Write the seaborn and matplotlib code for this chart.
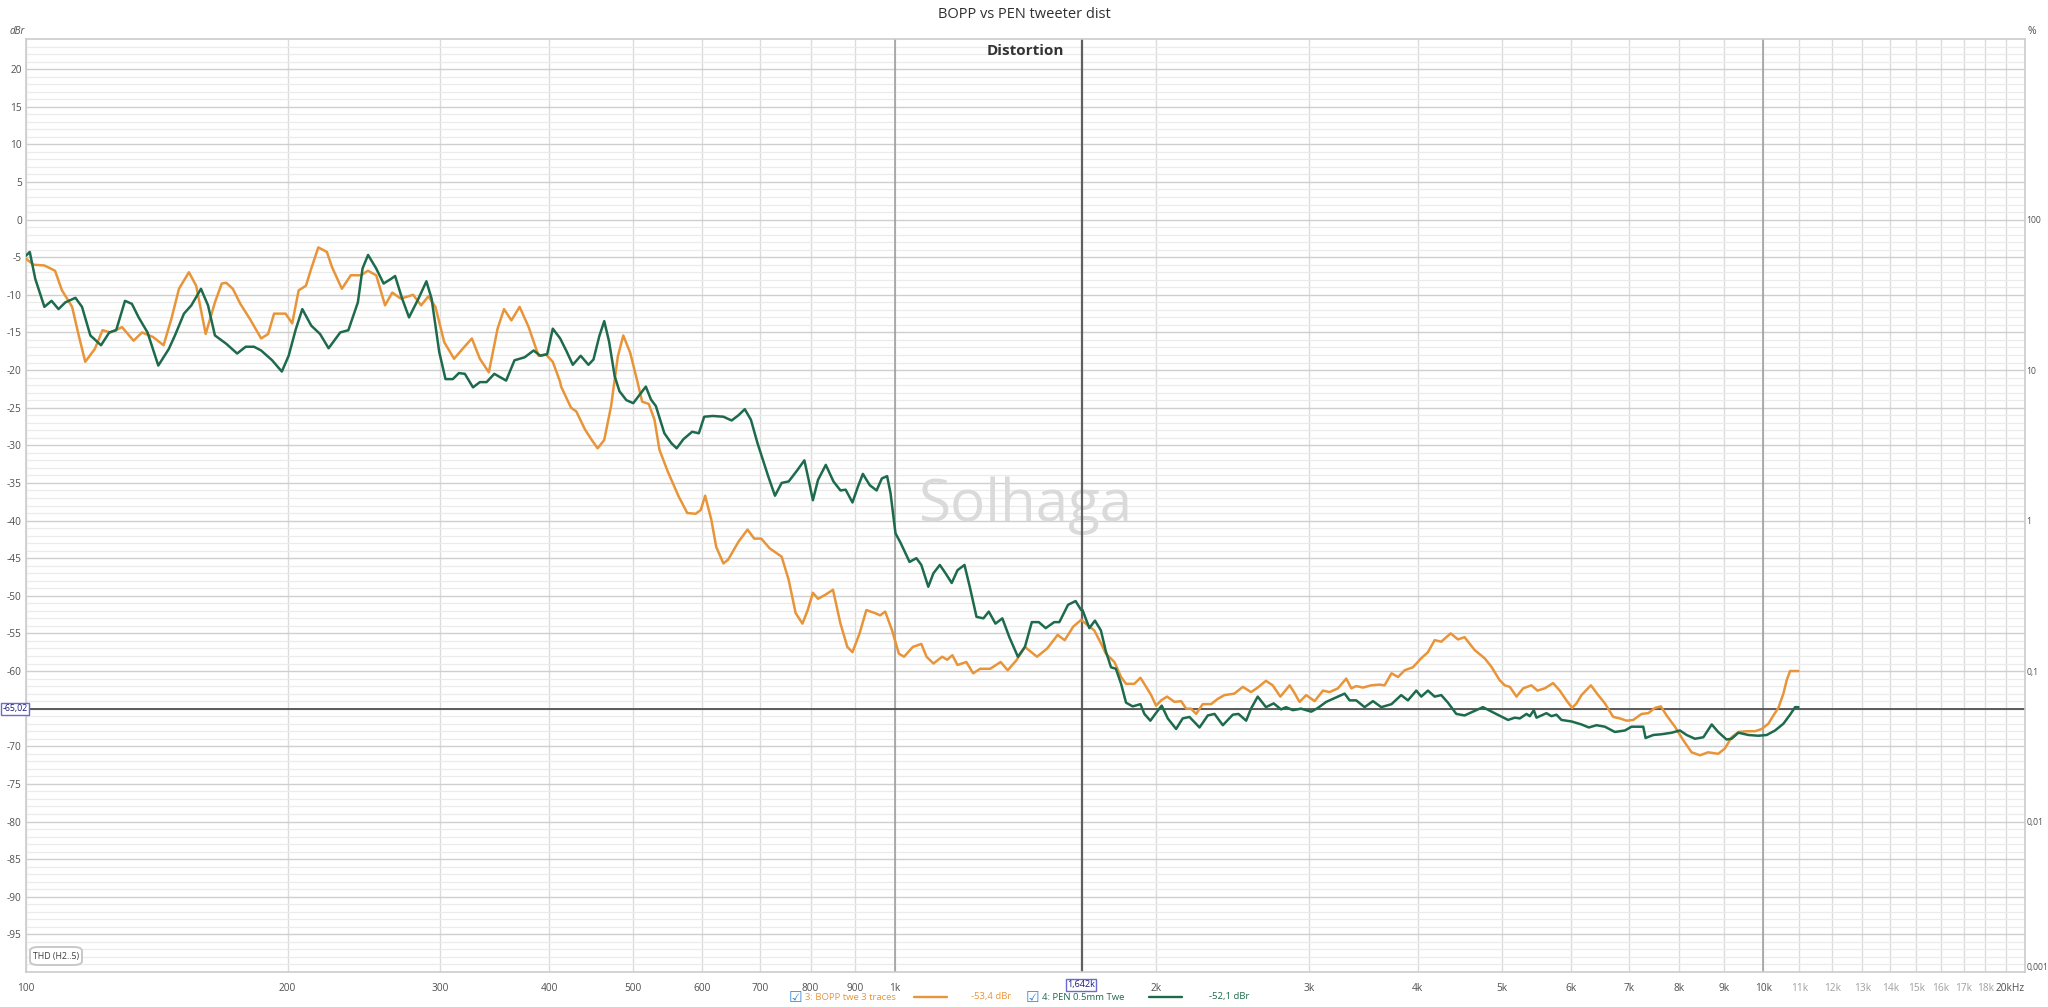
import matplotlib
matplotlib.use("Agg")
import pandas as pd
import matplotlib.pyplot as plt
import seaborn as sns
from matplotlib.lines import Line2D
from matplotlib.patches import FancyBboxPatch

# ---- trace 3: BOPP tweeter (orange) ----
bopp_freq = [100, 102, 105, 108, 110, 113, 115, 117, 120, 122.5, 125, 129, 133, 136, 140, 144, 147,
             150, 154, 157, 161, 165, 168, 170, 173, 176.5, 181, 186.5, 190, 193, 199, 202.5, 206,
             210, 213, 217, 222, 225, 231, 236.5, 243, 247.5, 253, 259, 264, 270, 279, 285, 290.5,
             296, 303, 311, 318, 326, 333, 341, 349, 355, 362, 370, 379, 389, 396.5, 404, 412,
             413, 424, 430, 440, 448, 455, 463, 471.5, 480, 487, 496, 505, 512, 521, 529, 536, 548,
             564, 577, 590, 598, 605, 615, 623, 635, 643, 661, 677, 689, 702, 718, 741, 755, 769,
             783, 794, 805, 816, 831, 849, 866, 882, 894, 911, 927.5, 949, 962, 975, 993, 1011,
             1025, 1049, 1073, 1088, 1108, 1134, 1149, 1165, 1181, 1209, 1231, 1254, 1288, 1324,
             1349, 1380, 1412, 1458, 1498, 1540, 1569, 1605, 1639,
             1667, 1697, 1727, 1750, 1790, 1822, 1846, 1887, 1918, 1947, 1973, 1999, 2026, 2058,
             2099, 2136, 2165, 2193, 2223, 2262, 2313, 2354, 2396, 2460, 2516, 2571, 2617, 2675,
             2723, 2779, 2848, 2881, 2924, 2976, 3043, 3111, 3166, 3237, 3309, 3354, 3398, 3459,
             3536, 3615, 3663, 3731, 3796, 3863, 3949, 4037, 4109, 4183, 4257, 4364, 4450, 4528,
             4650, 4775, 4860, 4968,
             5037, 5105, 5196, 5289, 5406, 5493, 5601, 5726, 5828, 5932, 6022, 6092, 6173, 6329,
             6453, 6568, 6715, 6835, 6956, 7081, 7239, 7368, 7500, 7620, 7735, 7908, 8085, 8265,
             8450, 8636, 8869, 9027, 9189, 9357, 9566, 9779, 9954, 10131, 10266, 10403, 10542,
             10636, 10730, 10970]
bopp_db = [-5.2, -6.0, -6.1, -6.8, -9.4, -11.6, -15.4, -18.9, -17.2, -14.7, -15.0, -14.3, -16.1,
           -15.0, -15.6, -16.7, -13.2, -9.2, -7.0, -8.8, -15.2, -11.0, -8.5, -8.4, -9.2, -11.2,
           -13.2, -15.8, -15.2, -12.5, -12.5, -13.8, -9.4, -8.8, -6.5, -3.7, -4.3, -6.3, -9.2,
           -7.4, -7.4, -6.8, -7.4, -11.4, -9.7, -10.5, -10.0, -11.4, -10.2, -11.6, -16.3, -18.5,
           -17.2, -15.8, -18.5, -20.3, -14.5, -11.9, -13.4, -11.6, -14.3, -18.1, -17.9, -18.9,
           -21.6,
           -22.2, -25.0, -25.5, -27.9, -29.3, -30.4, -29.3, -24.8, -18.2, -15.4, -17.7, -21.3,
           -24.2, -24.5, -26.6, -30.6, -33.5, -36.8, -39.0, -39.1, -38.6, -36.7, -39.9, -43.5,
           -45.7, -45.2, -42.8, -41.2, -42.4, -42.4, -43.7, -44.8, -47.9, -52.3, -53.7, -51.9,
           -49.6, -50.4, -49.9, -49.2, -53.7, -56.8, -57.5, -55.0, -51.9, -52.3, -52.6, -52.1,
           -54.6, -57.7, -58.1, -56.8, -56.4, -58.1, -59.0, -58.1, -58.5, -57.9, -59.2, -58.8,
           -60.3, -59.7, -59.7, -58.8, -59.9, -58.6, -56.8, -58.1, -57.0, -55.2, -55.9, -54.1,
           -53.2,
           -53.9, -54.6, -56.3, -57.7, -58.8, -60.8, -61.7, -61.7, -60.9, -62.1, -63.2, -64.6,
           -63.9, -63.4, -64.1, -64.0, -65.0, -65.0, -65.7, -64.4, -64.4, -63.7, -63.2, -63.0,
           -62.1, -62.8, -62.2, -61.3, -61.9, -63.4, -61.9, -62.8, -64.1, -63.2, -64.0, -62.6,
           -62.8, -62.3, -61.0, -62.3, -62.0, -62.2, -61.9, -61.8, -61.9, -60.3, -60.8, -59.9,
           -59.5, -58.3, -57.5, -55.9, -56.1, -55.0, -55.8, -55.5, -57.2, -58.3, -59.4, -61.2,
           -61.9, -62.1, -63.4, -62.3, -61.9, -62.6, -62.3, -61.6, -62.6, -63.9, -64.9, -64.3,
           -63.2, -61.9, -63.2, -64.3, -66.1, -66.3, -66.6, -66.5, -65.7, -65.6, -64.9, -64.7,
           -65.9, -67.4, -69.2, -70.8, -71.2, -70.8, -71.0, -70.3, -68.8, -68.1, -68.0, -68.0,
           -67.7, -67.0, -65.9, -64.9, -63.0, -61.2, -60.0, -60.0]

# ---- trace 4: PEN 0.5mm tweeter (green) ----
pen_freq = [100, 101, 102.5, 105, 107, 109, 111, 114, 116, 118.6, 122, 124.7, 127, 130, 132.4,
            134.8, 138, 142, 146, 148.4, 152, 155, 159, 162, 165, 170, 175, 179, 183, 186.5, 192,
            197, 200.6, 204.4, 208, 213, 218, 223, 230, 235, 241, 244, 247.6, 253, 258, 263, 266,
            271, 276, 283, 289, 293, 299, 304, 310, 315, 320, 327, 333, 339, 346, 357, 365, 375,
            384, 391, 398, 404, 412,
            419, 426, 435, 444, 450, 457, 463, 469, 476, 482, 491, 500, 510, 517, 524, 531, 543,
            553, 561, 571, 584.5, 595, 603.5, 617.5, 635, 649, 661, 672, 683, 695, 715, 728, 741,
            755, 772.5, 787, 796, 805, 816, 833, 850, 866, 878, 894, 907, 919, 936, 953, 966.5,
            980, 989, 1002, 1016, 1040, 1059, 1073, 1093, 1108, 1127, 1144, 1163, 1181, 1203,
            1220, 1242, 1265, 1283, 1306, 1330, 1355, 1386, 1412, 1438, 1465, 1492, 1526, 1547,
            1583, 1615, 1639,
            1645, 1675, 1700, 1727, 1750, 1774, 1797, 1822, 1846, 1879, 1918, 1938, 1969, 2004,
            2029, 2062, 2108, 2145, 2184, 2243, 2293, 2334, 2386, 2450, 2487, 2538, 2571, 2617,
            2675, 2730, 2784, 2821, 2872, 2936, 3016, 3070, 3138, 3223, 3295, 3339, 3398, 3474,
            3552, 3631, 3731, 3828, 3897, 3984, 4037, 4109, 4183, 4257, 4333, 4430, 4528, 4629,
            4754, 4903,
            5082, 5173, 5242, 5336, 5383, 5440, 5479, 5626, 5701, 5777, 5854, 6012, 6173, 6295,
            6424, 6568, 6745, 6926, 7049, 7271, 7316, 7467, 7634, 7838, 8014, 8157, 8339, 8527,
            8718, 8869, 9067, 9189, 9357, 9608, 9866, 10086, 10312, 10542, 10730, 10874, 10970]
pen_db = [-4.8, -4.3, -7.9, -11.6, -10.8, -11.9, -11.0, -10.4, -11.6, -15.4, -16.7, -15.0, -14.7,
          -10.8, -11.2, -13.0, -15.0, -19.4, -17.2, -15.4, -12.5, -11.4, -9.2, -11.4, -15.4, -16.5,
          -17.8, -16.9, -16.9, -17.4, -18.7, -20.2, -18.1, -14.6, -11.9, -14.1, -15.2, -17.1,
          -15.0, -14.7, -11.0, -6.5, -4.7, -6.5, -8.5, -7.9, -7.5, -10.5, -13.0, -10.5, -8.2,
          -10.5, -17.6, -21.2, -21.2, -20.4, -20.5, -22.3, -21.6, -21.6, -20.5, -21.4, -18.7,
          -18.3, -17.4, -18.1, -17.9, -14.5, -15.8,
          -17.5, -19.3, -18.1, -19.3, -18.6, -15.5, -13.5, -16.2, -20.8, -22.8, -24.0, -24.4,
          -23.1, -22.2, -23.9, -24.8, -28.4, -29.7, -30.4, -29.2, -28.2, -28.4, -26.2, -26.1,
          -26.2, -26.7, -26.0, -25.2, -26.6, -29.7, -34.1, -36.7, -35.0, -34.8, -33.3, -32.0,
          -34.6, -37.3, -34.6, -32.6, -34.8, -36.0, -35.9, -37.6, -35.5, -33.8, -35.3, -36.0,
          -34.4, -34.1, -36.4, -41.7, -43.0, -45.5, -45.0, -45.9, -48.8, -47.0, -45.9, -47.0,
          -48.3, -46.6, -45.9, -48.8, -52.8, -53.0, -52.1, -53.7, -53.0, -55.5, -58.1, -56.8,
          -53.5, -53.5, -54.3, -53.5, -53.5, -51.2, -50.7, -51.9,
          -51.9, -54.3, -53.3, -54.6, -57.4, -59.5, -59.7, -61.7, -64.2, -64.7, -64.4, -65.7,
          -66.6, -65.4, -64.6, -66.3, -67.7, -66.3, -66.1, -67.5, -65.9, -65.7, -67.2, -65.8,
          -65.7, -66.6, -65.0, -63.4, -64.8, -64.3, -65.1, -64.8, -65.2, -65.0, -65.4, -64.9,
          -64.1, -63.5, -63.0, -63.9, -63.9, -64.8, -64.0, -64.8, -64.4, -63.2, -63.9, -62.6,
          -63.4, -62.6, -63.4, -63.2, -64.2, -65.7, -65.9, -65.4, -64.8, -65.6,
          -66.5, -66.2, -66.3, -65.7, -66.0, -65.2, -66.2, -65.6, -66.0, -65.8, -66.5, -66.7,
          -67.1, -67.5, -67.2, -67.4, -68.1, -67.9, -67.4, -67.4, -68.9, -68.5, -68.4, -68.2,
          -67.9, -68.5, -69.0, -68.8, -67.1, -68.1, -69.1, -69.0, -68.2, -68.5, -68.6, -68.5,
          -67.9, -67.0, -65.8, -64.8, -64.8]

trace_names = ["3: BOPP twe 3 traces", "4: PEN 0.5mm Twe"]
trace_values = ["-53,4 dBr", "-52,1 dBr"]
colors = {trace_names[0]: "#e8953a", trace_names[1]: "#1d6b4c"}

x_major = [100, 200, 300, 400, 500, 600, 700, 800, 900, 1000, 2000, 3000, 4000, 5000, 6000,
           7000, 8000, 9000, 10000, 11000, 12000, 13000, 14000, 15000, 16000, 17000, 18000, 20000]
x_labels = ["100", "200", "300", "400", "500", "600", "700", "800", "900", "1k", "2k", "3k", "4k",
            "5k", "6k", "7k", "8k", "9k", "10k", "11k", "12k", "13k", "14k", "15k", "16k", "17k",
            "18k", "20kHz"]
faint_labels = ["11k", "12k", "13k", "14k", "15k", "16k", "17k", "18k"]
x_minor = [19000]
decade_lines = [1000, 10000]
y_major = list(range(-95, 21, 5))
pct_ticks = [0.001, 0.01, 0.1, 1, 10, 100]
pct_labels = ["0,001", "0,01", "0,1", "1", "10", "100"]

cursor_freq = 1642
cursor_db = -65.02

# ---- build frame ----
df = pd.concat([
    pd.DataFrame({"freq": bopp_freq, "db": bopp_db, "trace": trace_names[0]}),
    pd.DataFrame({"freq": pen_freq, "db": pen_db, "trace": trace_names[1]}),
])

sns.set_theme(style="white")
plt.rcParams["font.family"] = ["Open Sans", "DejaVu Sans"]

W, H = 2048, 1007
fig = plt.figure(figsize=(W / 100, H / 100), dpi=100)
L, R, T, B = 26, 2025, 39, 972
ax = fig.add_axes([L / W, 1 - B / H, (R - L) / W, (B - T) / H])


def fx(px):
    return px / W


def fy(py):
    return 1 - py / H


ax.set_xscale("log")
ax.set_xlim(100, 20000)
ax.set_ylim(-100, 24)

# grid
ax.set_xticks(x_major)
ax.set_xticks(x_minor, minor=True)
ax.set_xticklabels(x_labels)
ax.set_yticks(y_major)
ax.set_yticks(range(-99, 24), minor=True)
# the -65 label sits under the cursor read-out box
ax.set_yticklabels(["" if v == -65 else str(v) for v in y_major])
ax.grid(axis="x", which="both", color="#dcdcdc", lw=1.0)
ax.grid(axis="y", which="major", color="#cfcfcf", lw=1.0)
ax.grid(axis="y", which="minor", color="#ebebeb", lw=0.9)
for f in decade_lines:
    ax.axvline(f, color="#9a9a9a", lw=1.1, zorder=1)

ax.tick_params(axis="both", which="both", length=0)
ax.tick_params(axis="x", pad=8, labelsize=7.3, labelcolor="#505050")
ax.tick_params(axis="y", pad=3, labelsize=7.3, labelcolor="#505050")
for lab in ax.get_xticklabels():
    if lab.get_text() in faint_labels:
        lab.set_color("#a0a0a0")
    if lab.get_text() == "20kHz":
        lab.set_horizontalalignment("right")
for s in ax.spines.values():
    s.set_color("#cccccc")
    s.set_linewidth(1.2)

# watermark
ax.text(0.5, 0.5, "Solhaga", transform=ax.transAxes, ha="center", va="center",
        fontsize=42, color="#dadada", zorder=1)

# traces
sns.lineplot(data=df, x="freq", y="db", hue="trace", palette=colors, estimator=None,
             sort=False, linewidth=1.8, legend=False, ax=ax, zorder=3)
ax.set_xlabel("")
ax.set_ylabel("")

# cursors
ax.axvline(cursor_freq, color="#606060", lw=1.6, zorder=2)
ax.axhline(cursor_db, color="#505050", lw=1.3, zorder=2)

# right % axis
ax2 = ax.twinx()
ax2.set_yscale("log")
ax2.set_ylim(100 * 10 ** (-100 / 20), 100 * 10 ** (24 / 20))
ax2.set_yticks(pct_ticks)
ax2.set_yticklabels(pct_labels)
ax2.yaxis.set_minor_locator(matplotlib.ticker.NullLocator())
ax2.tick_params(axis="y", length=0, pad=1, labelsize=6.2, labelcolor="#505050")
for lab in ax2.get_yticklabels():
    if lab.get_text() == "0,001":
        lab.set_verticalalignment("bottom")
for s in ax2.spines.values():
    s.set_visible(False)
ax2.grid(False)

# texts
fig.text(0.5, fy(14), "BOPP vs PEN tweeter dist", ha="center", va="center",
         fontsize=10.5, color="#303030")
ax.text(0.5, 1 - (51 - T) / (B - T), "Distortion", transform=ax.transAxes,
        ha="center", va="center", fontsize=11, fontweight="bold", color="#333333")
fig.text(fx(10), fy(32), "dBr", ha="left", va="center", fontsize=7, color="#505050",
         style="italic")
fig.text(fx(2027), fy(32), "%", ha="left", va="center", fontsize=7.5, color="#505050")

box = dict(boxstyle="square,pad=0.15", fc="white", ec="#6a6ad0", lw=1.0)
fig.text(fx(15), fy(709), "-65,02", ha="center", va="center", fontsize=6.3,
         color="#1a1a80", bbox=box, zorder=5)
fig.text(fx(1081), fy(985), "1,642k", ha="center", va="center", fontsize=6.5,
         color="#1a1a80", bbox=box, zorder=5)

thd = FancyBboxPatch((fx(30), fy(965)), fx(52), 18 / H, boxstyle="round,pad=0,rounding_size=0.004",
                     transform=fig.transFigure, fc="white", ec="#c8c8c8", lw=1.4, zorder=5)
fig.add_artist(thd)
fig.text(fx(56), fy(956), "THD (H2..5)", ha="center", va="center", fontsize=6.3,
         color="#404040", zorder=6)

# bottom legend
leg_y = fy(997)
for name, val, x0, lx0, vx0 in zip(trace_names, trace_values, [795, 1032], [914, 1149],
                                   [971, 1209]):
    c = colors[name]
    fig.text(fx(x0), leg_y, "\u2611", ha="center", va="center", fontsize=11,
             color="#3a8ad6", family=["DejaVu Sans"])
    fig.text(fx(x0 + 10), leg_y, name, ha="left", va="center", fontsize=6.8, color=c)
    fig.add_artist(Line2D([fx(lx0), fx(lx0 + 33)], [leg_y, leg_y], color=c, lw=1.7))
    fig.text(fx(vx0), leg_y, val, ha="left", va="center", fontsize=6.8, color=c)

fig.savefig("out.png", dpi=100, facecolor="white")
